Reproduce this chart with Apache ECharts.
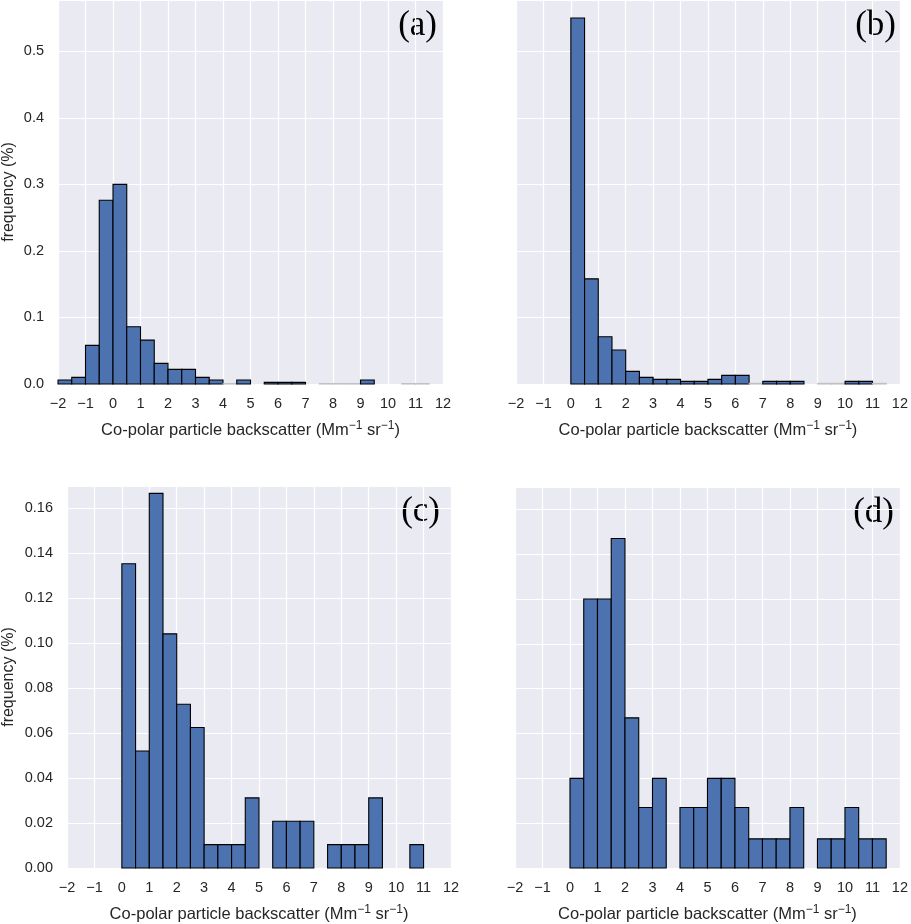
<!DOCTYPE html>
<html>
<head>
<meta charset="utf-8">
<script src="https://cdn.jsdelivr.net/npm/echarts@6/dist/echarts.min.js"></script>
<style>
  html, body { margin: 0; padding: 0; background: #fff; }
  #chart { width: 911px; height: 924px; }
</style>
</head>
<body>
<div id="chart"></div>
<script>
// histogram bin edges (width 0.5)
var binLeft  = [-2, -1.5, -1, -0.5, 0, 0.5, 1, 1.5, 2, 2.5, 3, 3.5, 4, 4.5, 5, 5.5, 6, 6.5, 7, 7.5, 8, 8.5, 9, 9.5, 10, 10.5, 11];
var binRight = [-1.5, -1, -0.5, 0, 0.5, 1, 1.5, 2, 2.5, 3, 3.5, 4, 4.5, 5, 5.5, 6, 6.5, 7, 7.5, 8, 8.5, 9, 9.5, 10, 10.5, 11, 11.5];

// frequency per bin
var freqA = [0.006, 0.010, 0.058, 0.276, 0.300, 0.086, 0.066, 0.031, 0.022, 0.022, 0.010, 0.006, 0.0004, 0.006, 0, 0.0025, 0.0025, 0.0025, 0, 0.0004, 0.0004, 0.0004, 0.006, 0, 0, 0.0004, 0.0004];
var freqB = [0, 0, 0, 0, 0.550, 0.158, 0.071, 0.051, 0.019, 0.010, 0.007, 0.007, 0.004, 0.004, 0.007, 0.013, 0.013, 0.001, 0.004, 0.004, 0.004, 0, 0.001, 0.001, 0.004, 0.004, 0.001];
var freqC = [0, 0, 0, 0, 0.1354, 0.0521, 0.1667, 0.1042, 0.0729, 0.0625, 0.0104, 0.0104, 0.0104, 0.0312, 0, 0.0208, 0.0208, 0.0208, 0, 0.0104, 0.0104, 0.0104, 0.0312, 0, 0, 0.0104, 0];
var freqD = [0, 0, 0, 0, 0.040, 0.120, 0.120, 0.147, 0.067, 0.027, 0.040, 0, 0.027, 0.027, 0.040, 0.040, 0.027, 0.013, 0.013, 0.013, 0.027, 0, 0.013, 0.013, 0.027, 0.013, 0.013];

var panelLabels = ['(a)', '(b)', '(c)', '(d)'];
var xName = 'Co-polar particle backscatter (Mm{sup|\u22121} sr{sup|\u22121})';
var yName = 'frequency (%)';

var textColor = '#262626';
var sans = '"Liberation Sans", Arial, sans-serif';

// grid boxes (px)
var grids = [
  {left: 57,  top: 0,   width: 386, height: 384},
  {left: 516, top: 0,   width: 386, height: 384},
  {left: 66,  top: 486, width: 385, height: 383},
  {left: 515, top: 487, width: 385, height: 383}
];
var yTop = [0.577, 0.577, 0.170, 0.170];
var yStep = [0.1, 0.1, 0.02, 0.02];
var yDigits = [1, 1, 2, 2];
var showY = [true, false, true, false];
var nameGapY = [41, 0, 50, 0];
var allFreq = [freqA, freqB, freqC, freqD];

function histData(freq) {
  return freq.map(function (v, i) { return [binLeft[i], binRight[i], v]; });
}

function renderBar(params, api) {
  var y = api.value(2);
  if (!y) return null;
  var p0 = api.coord([api.value(0), 0]);
  var p1 = api.coord([api.value(1), y]);
  var h = p0[1] - p1[1];
  return {
    type: 'rect',
    shape: {x: p0[0], y: p1[1], width: p1[0] - p0[0], height: h},
    style: {fill: '#4C72B0', stroke: h < 1 ? '#c0c0c0' : '#000', lineWidth: 1.1}
  };
}

var xAxes = [], yAxes = [], series = [], graphics = [];
grids.forEach(function (g, i) {
  xAxes.push({
    type: 'value', gridIndex: i, min: -2, max: 12, interval: 1,
    axisLine: {show: false}, axisTick: {show: false},
    axisLabel: {
      color: textColor, fontFamily: sans, fontSize: 14.5, margin: 12,
      formatter: function (v) { return String(v).replace('-', '\u2212'); }
    },
    splitLine: {show: true, lineStyle: {color: '#fff', width: 1.2}},
    name: xName, nameLocation: 'middle', nameGap: 36,
    nameTextStyle: {
      color: textColor, fontFamily: sans, fontSize: 16.5,
      rich: {sup: {fontSize: 12, fontFamily: sans, color: textColor, verticalAlign: 'top', padding: [0, 0, 9, 0]}}
    }
  });
  yAxes.push({
    type: 'value', gridIndex: i, min: 0, max: yTop[i], interval: yStep[i],
    axisLine: {show: false}, axisTick: {show: false},
    axisLabel: {
      show: showY[i], color: textColor, fontFamily: sans, fontSize: 14.5, margin: 14,
      showMaxLabel: false,
      formatter: function (v) { return v.toFixed(yDigits[i]); }
    },
    splitLine: {show: true, lineStyle: {color: '#fff', width: 1.2}},
    name: showY[i] ? yName : '', nameLocation: 'middle', nameGap: nameGapY[i],
    nameTextStyle: {color: textColor, fontFamily: sans, fontSize: 16}
  });
  series.push({
    type: 'custom', xAxisIndex: i, yAxisIndex: i,
    renderItem: renderBar,
    encode: {x: [0, 1], y: 2},
    data: histData(allFreq[i]),
    silent: true
  });
  graphics.push({
    type: 'text',
    x: g.left + g.width - (i === 2 ? 11 : 6),
    y: g.top + 26,
    style: {
      text: panelLabels[i], fill: '#000',
      font: '35px "Liberation Serif", "Times New Roman", serif',
      textAlign: 'right', textVerticalAlign: 'middle'
    }
  });
});

var chart = echarts.init(document.getElementById('chart'), null, {renderer: 'canvas'});
chart.setOption({
  backgroundColor: '#fff',
  animation: false,
  grid: grids.map(function (g) {
    return {left: g.left, top: g.top, width: g.width, height: g.height,
            show: true, backgroundColor: '#EAEAF2', borderWidth: 0};
  }),
  xAxis: xAxes,
  yAxis: yAxes,
  series: series,
  graphic: graphics
});
</script>
</body>
</html>
